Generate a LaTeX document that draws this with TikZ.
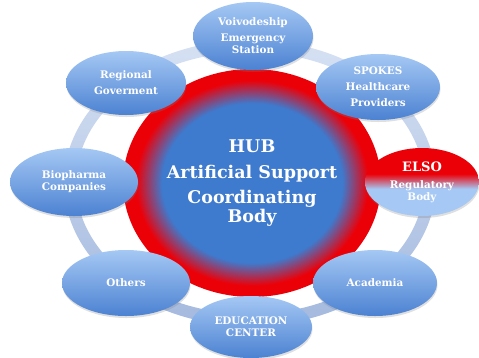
\documentclass[tikz,border=0pt]{standalone}
\usepackage{fontspec}
\setmainfont{DejaVu Serif}
\usetikzlibrary{shapes,shadows}

\definecolor{hubblue}{RGB}{62,122,205}
\definecolor{hubred}{RGB}{236,0,8}
\definecolor{satlight}{RGB}{165,200,244}
\definecolor{satdark}{RGB}{76,130,210}
\definecolor{ringlight}{RGB}{214,225,243}
\definecolor{ringdark}{RGB}{164,185,222}
\pgfdeclareradialshading{hubshade}{\pgfpoint{0bp}{0bp}}{color(0bp)=(hubblue); color(17.5bp)=(hubblue); color(22.5bp)=(hubred); color(25bp)=(hubred); color(50bp)=(hubred)}
\pgfdeclareverticalshading{elsoshade}{100bp}{color(0bp)=(satlight); color(25bp)=(satlight); color(45bp)=(satlight); color(56bp)=(hubred); color(75bp)=(hubred); color(100bp)=(hubred)}

\begin{document}
\begin{tikzpicture}[x=1pt, y=-1pt]

    % Define styles
    \tikzstyle{sat} = [ellipse, inner sep=0pt, text=white, top color=satlight, bottom color=satdark, align=center, font=\bfseries\fontsize{10.4}{12}\selectfont, drop shadow={opacity=0.25, shadow xshift=0.5pt, shadow yshift=-2pt}]
    \tikzstyle{hubbox} = [ellipse, inner sep=0pt, shade, shading=hubshade, text=white, align=center, font=\bfseries\fontsize{17.5}{19}\selectfont]

    \useasboundingbox (0,0) rectangle (479,357);

    % Ring
    \path[even odd rule, top color=ringlight, bottom color=ringdark] (250,183) ellipse (186 and 143) (250,183) ellipse (174 and 131);

    % Hub
    \node [hubbox, minimum width=258pt, minimum height=228pt] (hub) at (252,183) {HUB\\[7pt]Artificial Support\\[6pt]Coordinating\\Body};

    % Nodes
    \node [sat, minimum width=120pt, minimum height=68pt] (voiv) at (253,36) {Voivodeship\\[4pt]Emergency\\Station};
    \node [sat, minimum width=120pt, minimum height=64pt] (regional) at (126,83) {Regional\\[4pt]Goverment};
    \node [sat, minimum width=124pt, minimum height=66pt] (spokes) at (378,87) {SPOKES\\[4pt]Healthcare\\[4pt]Providers};
    \node [sat, shading=elsoshade, minimum width=114pt, minimum height=68pt] (elso) at (422,182) {{\fontsize{13}{14}\selectfont ELSO}\\[5pt]Regulatory\\Body};
    \node [sat, minimum width=128pt, minimum height=68pt] (biopharma) at (74,182) {Biopharma\\Companies};
    \node [sat, minimum width=128pt, minimum height=66pt] (others) at (126,283) {Others};
    \node [sat, minimum width=124pt, minimum height=66pt] (academia) at (375,283) {Academia};
    \node [sat, minimum width=122pt, minimum height=62pt] (education) at (251,327) {EDUCATION\\CENTER};

\end{tikzpicture}
\end{document}
